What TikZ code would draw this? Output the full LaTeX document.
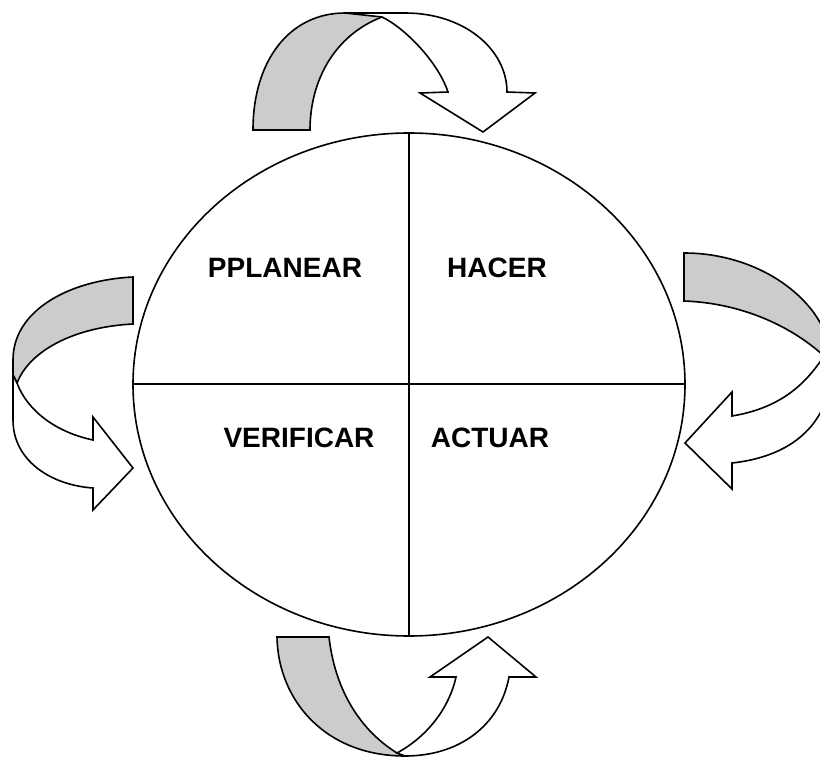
\documentclass[tikz,border=0pt]{standalone}
\usepackage{fontspec}
\setmainfont{Liberation Sans}
\definecolor{bandgray}{RGB}{204,204,204}
\begin{document}
\begin{tikzpicture}[x=1pt,y=-1pt,
  outl/.style={draw=black,line width=1.6pt,line join=miter},
  back/.style={outl,fill=bandgray},
  front/.style={outl,fill=white},
  lbl/.style={font=\fontsize{28}{33}\selectfont\bfseries,inner sep=0pt}]
\useasboundingbox (0,0) rectangle (820,757);
\clip (0,0) rectangle (820,757);
% circle
\draw[outl] (409,384.5) ellipse [x radius=276, y radius=251.5];
\draw[outl] (409,133) -- (409,636);
\draw[outl] (133,384) -- (685,384);
% labels
\node[lbl] (plan) at (285,268) {PPLANEAR};
\node[lbl] (hacer) at (497,268) {HACER};
\node[lbl] (verif) at (299,438) {VERIFICAR};
\node[lbl] (act) at (490,438) {ACTUAR};
% top arrow
\draw[back] (253,130) .. controls (253,60) and (290,13) .. (345,13) -- (405,13)
  -- (382,17) .. controls (335,35) and (310,80) .. (310,130) -- cycle;
\draw[front] (382,17) -- (345,13) -- (405,13) .. controls (465,13) and (507,50) .. (507,92)
  -- (535,93) -- (483,132) -- (420,93) -- (448,92)
  .. controls (438,62) and (405,28) .. (382,17) -- cycle;
% right arrow
\draw[back] (684,253) .. controls (760,253) and (822,300) .. (830,350) -- (824,356)
  .. controls (790,325) and (740,303) .. (684,301) -- cycle;
\draw[front] (824,356) -- (830,350) .. controls (838,410) and (805,455) .. (732,463)
  -- (732,489) -- (685,443) -- (732,392) -- (732,416)
  .. controls (780,408) and (805,385) .. (824,356) -- cycle;
% left arrow
\draw[back] (133,277) .. controls (70,280) and (13,310) .. (13,360) -- (13,375) -- (17,383)
  .. controls (30,350) and (75,327) .. (133,324) -- cycle;
\draw[front] (17,383) -- (13,375) -- (13,420) .. controls (13,460) and (50,485) .. (93,488)
  -- (93,510) -- (133,468) -- (93,417) -- (93,440)
  .. controls (55,432) and (27,410) .. (17,383) -- cycle;
% bottom arrow
\draw[back] (277,637) -- (329,637) .. controls (335,690) and (360,730) .. (397,753)
  -- (405,756) .. controls (325,756) and (278,700) .. (277,637) -- cycle;
\draw[front] (397,753) .. controls (430,735) and (450,705) .. (456,677)
  -- (430,677) -- (488,637) -- (536,677) -- (509,677)
  .. controls (500,725) and (460,756) .. (405,756) -- cycle;
\end{tikzpicture}
\end{document}
